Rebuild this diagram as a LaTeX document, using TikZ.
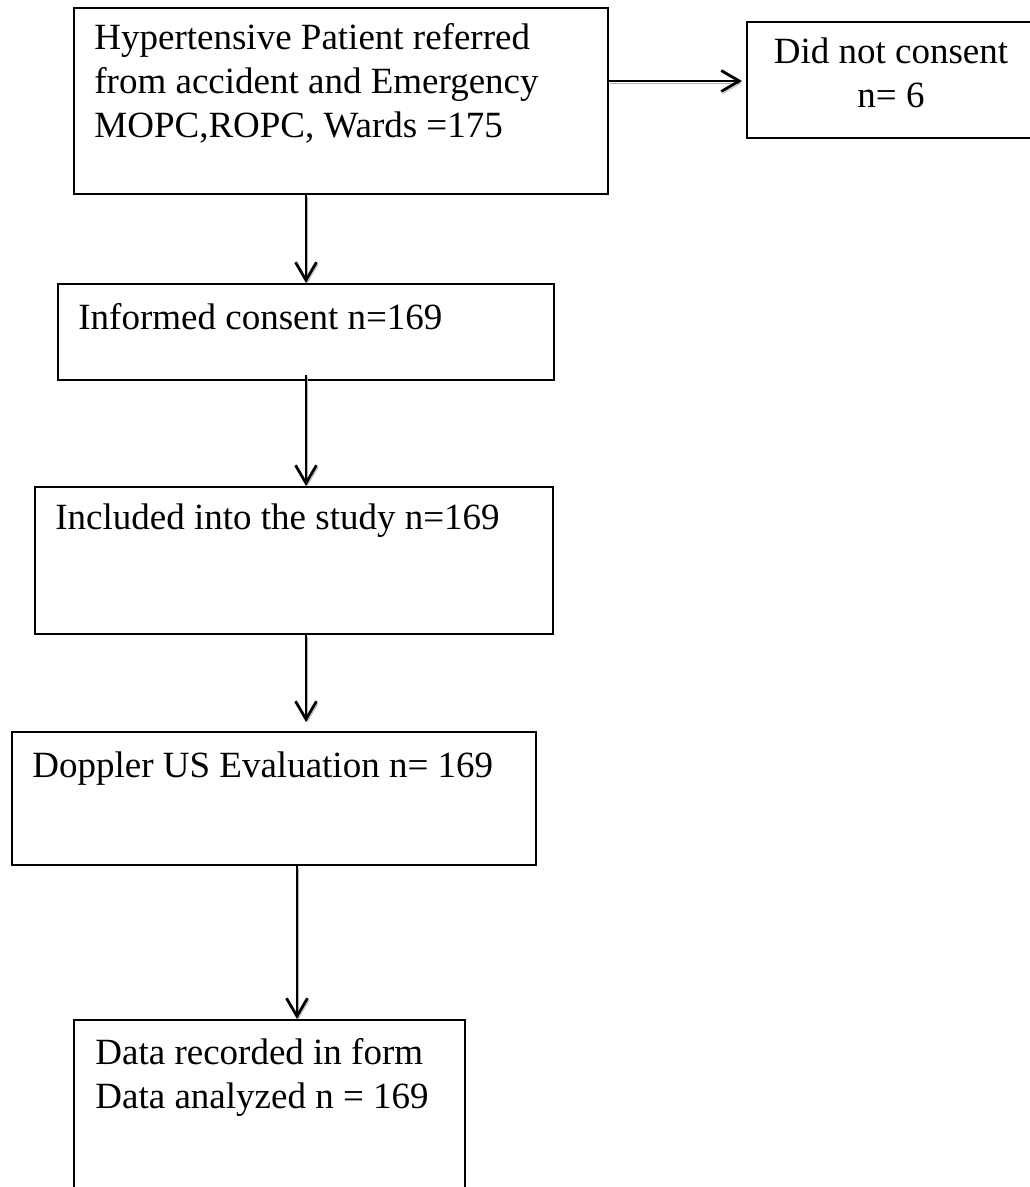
\documentclass[tikz,border=0pt]{standalone}
\usepackage{fontspec}
\setmainfont{Liberation Serif}
\usetikzlibrary{arrows.meta,positioning,calc}

\begin{document}
\begin{tikzpicture}[
  x=0.5pt, y=-0.5pt,
  flowbox/.style={draw, line width=1pt, inner sep=0pt, anchor=north west},
  flowtext/.style={anchor=base west, inner sep=0pt, align=left, font=\fontsize{18.5}{22}\selectfont},
  flowarrow/.style={-{Straight Barb[length=9pt,width=10.5pt]}, line width=1.4pt,
    preaction={draw=gray!60, transform canvas={shift={(0.7pt,-1.1pt)}}}},
]
  \useasboundingbox (0,0) rectangle (1029,1187);

  \node[flowbox, minimum width=267pt, minimum height=93pt] (patients) at (73,7) {};
  \node[flowbox, minimum width=145pt, minimum height=58pt] (refused) at (746,21) {};
  \node[flowbox, minimum width=248pt, minimum height=48pt] (consent) at (57,283) {};
  \node[flowbox, minimum width=259pt, minimum height=73.5pt] (included) at (34,486) {};
  \node[flowbox, minimum width=262pt, minimum height=66.5pt] (doppler) at (11,731) {};
  \node[flowbox, minimum width=195.5pt, minimum height=100pt] (analysis) at (73,1019) {};

  \node[flowtext] (patientsT) at ($(patients.north west)+(21,131)$) {Hypertensive Patient referred\\from accident and Emergency\\MOPC,ROPC, Wards =175};
  \node[flowtext, anchor=base, align=center] (refusedT) at ($(refused.north)+(-1,87)$) {Did not consent\\n= 6};
  \node[flowtext] (consentT) at ($(consent.north west)+(21,46)$) {Informed consent n=169};
  \node[flowtext] (includedT) at ($(included.north west)+(21,43)$) {Included into the study n=169};
  \node[flowtext] (dopplerT) at ($(doppler.north west)+(21,46)$) {Doppler US Evaluation n= 169};
  \node[flowtext] (analysisT) at ($(analysis.north west)+(22,89)$) {Data recorded in form\\Data analyzed n = 169};

  \coordinate (ax) at (306,0);
  \coordinate (bx) at (297,0);
  \coordinate (hy) at (0,81);

  \draw[flowarrow, shorten >=2pt] (patients.east |- hy) -- (refused.west |- hy);
  \draw[flowarrow] (patients.south -| ax) -- (consent.north -| ax);
  \draw[flowarrow, shorten <=-3pt] (consent.south -| ax) -- (included.north -| ax);
  \draw[flowarrow, shorten >=4.5pt] (included.south -| ax) -- (doppler.north -| ax);
  \draw[flowarrow] (doppler.south -| bx) -- (analysis.north -| bx);
\end{tikzpicture}
\end{document}
